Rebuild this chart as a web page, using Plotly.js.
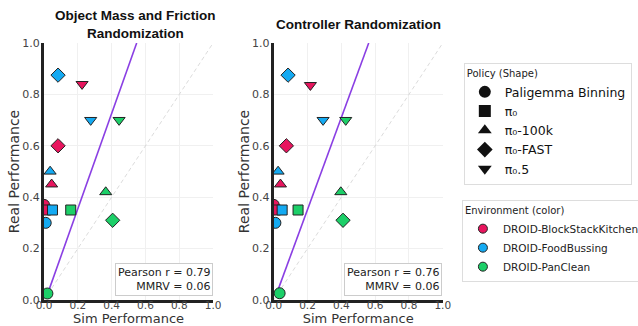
<!DOCTYPE html>
<html><head><meta charset="utf-8">
<script src="https://cdn.plot.ly/plotly-3.0.1.min.js"></script>
<style>html,body{margin:0;padding:0;background:#fff}#plot{width:638px;height:326px}</style>
</head><body><div id="plot"></div>
<script>
// Data
const policies = ["Paligemma Binning", "π₀", "π₀-100k", "π₀-FAST", "π₀.5"];
const policySymbols = ["circle", "square", "triangle-up", "diamond", "triangle-down"];
const environments = ["DROID-BlockStackKitchen", "DROID-FoodBussing", "DROID-PanClean"];
const envColors = ["#E8155E", "#14AAF2", "#1CCF68"];

// sim / real per environment, ordered by policies
const leftSim = {
  "DROID-BlockStackKitchen": [0.00, 0.01, 0.045, 0.083, 0.225],
  "DROID-FoodBussing":       [0.01, 0.05, 0.036, 0.083, 0.276],
  "DROID-PanClean":          [0.02, 0.158, 0.365, 0.406, 0.444]
};
const leftReal = {
  "DROID-BlockStackKitchen": [0.37, 0.35, 0.45, 0.60, 0.84],
  "DROID-FoodBussing":       [0.30, 0.35, 0.50, 0.875, 0.70],
  "DROID-PanClean":          [0.025, 0.35, 0.42, 0.31, 0.70]
};
const rightSim = {
  "DROID-BlockStackKitchen": [0.00, 0.01, 0.04, 0.075, 0.217],
  "DROID-FoodBussing":       [0.01, 0.05, 0.026, 0.085, 0.292],
  "DROID-PanClean":          [0.035, 0.144, 0.397, 0.41, 0.426]
};
const rightReal = {
  "DROID-BlockStackKitchen": [0.37, 0.35, 0.45, 0.60, 0.836],
  "DROID-FoodBussing":       [0.30, 0.35, 0.50, 0.875, 0.70],
  "DROID-PanClean":          [0.026, 0.35, 0.42, 0.31, 0.70]
};
const leftFitX = [0.03, 0.548];
const leftFitY = [0.04, 1.0];
const rightFitX = [0.026, 0.562];
const rightFitY = [0.04, 1.0];
const diagX = [0, 1];
const diagY = [0, 1];
const titles = ["Object Mass and Friction<br>Randomization", "Controller Randomization"];
const stats = ["Pearson r = 0.79<br>MMRV = 0.06", "Pearson r = 0.76<br>MMRV = 0.06"];
const tickVals = [0, 0.2, 0.4, 0.6, 0.8, 1.0];
const tickText = ["0.0", "0.2", "0.4", "0.6", "0.8", "1.0"];

const traces = [];
const markerSizes = [11, 10, 10.5, 11, 10.5];
function addPanel(sim, real, fx, fy, xa, ya) {
  traces.push({x: diagX, y: diagY, xaxis: xa, yaxis: ya, mode: "lines", type: "scatter",
    line: {color: "#d2d2d2", width: 0.8, dash: "4px,3px"}, showlegend: false, hoverinfo: "skip"});
  traces.push({x: fx, y: fy, xaxis: xa, yaxis: ya, mode: "lines", type: "scatter",
    line: {color: "#8A3FE3", width: 1.6}, showlegend: false, hoverinfo: "skip"});
  environments.forEach((env, ei) => {
    traces.push({x: sim[env], y: real[env], xaxis: xa, yaxis: ya, mode: "markers", type: "scatter",
      marker: {symbol: policySymbols, color: envColors[ei], size: markerSizes, opacity: 1,
        line: {color: "#222", width: 1}}, showlegend: false, cliponaxis: true});
  });
}
addPanel(leftSim, leftReal, leftFitX, leftFitY, "x", "y");
addPanel(rightSim, rightReal, rightFitX, rightFitY, "x2", "y2");

// legend entries
policies.forEach((p, i) => {
  traces.push({x: [null], y: [null], mode: "markers", type: "scatter", name: p, legend: "legend",
    marker: {symbol: policySymbols[i], color: "#111", size: 12, opacity: 1}});
});
environments.forEach((e, i) => {
  traces.push({x: [null], y: [null], mode: "markers", type: "scatter", name: e, legend: "legend2",
    marker: {symbol: "circle", color: envColors[i], size: 9, opacity: 1, line: {color: "#222", width: 1}}});
});

const font = "DejaVu Sans, sans-serif";
function xaxis(dom, anchor) {
  return {domain: dom, anchor: anchor, range: [0, 1], tickvals: tickVals, ticktext: tickText,
    showgrid: true, gridcolor: "#f0f0f0", gridwidth: 1, zeroline: false, automargin: false,
    showline: true, linecolor: "#222", linewidth: 3, ticks: "", ticklen: 0, ticklabelstandoff: -7,
    tickfont: {family: font, size: 10.5, color: "#444"},
    title: {text: "Sim Performance", font: {family: font, size: 13, color: "#333"}, standoff: 1}};
}
function yaxis(anchor) {
  return {domain: [0.08, 0.868], anchor: anchor, range: [0, 1], tickvals: tickVals, ticktext: tickText,
    showgrid: true, gridcolor: "#f0f0f0", gridwidth: 1, zeroline: false, automargin: false,
    showline: true, linecolor: "#222", linewidth: 3, ticks: "", ticklen: 0, ticklabelstandoff: -1,
    tickfont: {family: font, size: 11, color: "#444"},
    title: {text: "Real Performance", font: {family: font, size: 14, color: "#333"}, standoff: 0}};
}

const layout = {
  width: 638, height: 326, margin: {l: 0, r: 0, t: 0, b: 0, autoexpand: false},
  paper_bgcolor: "#fff", plot_bgcolor: "#fff",
  xaxis: xaxis([0.069, 0.334], "y"),
  yaxis: yaxis("x"),
  xaxis2: xaxis([0.429, 0.694], "y2"),
  yaxis2: yaxis("x2"),
  legend: {x: 0.727, y: 0.806, xanchor: "left", yanchor: "top", bgcolor: "#fff",
    bordercolor: "#ddd", borderwidth: 1,
    title: {text: "Policy (Shape)", font: {family: font, size: 10, color: "#222"}},
    font: {family: font, size: 12.5, color: "#111"}, tracegroupgap: 0, itemwidth: 30},
  legend2: {x: 0.724, y: 0.386, xanchor: "left", yanchor: "top", bgcolor: "#fff",
    bordercolor: "#ddd", borderwidth: 1,
    title: {text: "Environment (color)", font: {family: font, size: 10, color: "#222"}},
    font: {family: font, size: 10.5, color: "#222"}, tracegroupgap: 0, itemwidth: 30},
  annotations: [
    {text: "<b>" + titles[0] + "</b>", xref: "paper", yref: "paper", x: 0.2116, y: 0.926,
      xanchor: "center", yanchor: "middle", showarrow: false,
      font: {family: "Liberation Sans, Arial, sans-serif", size: 13.5, color: "#111"}},
    {text: "<b>" + titles[1] + "</b>", xref: "paper", yref: "paper", x: 0.562, y: 0.926,
      xanchor: "center", yanchor: "middle", showarrow: false,
      font: {family: "Liberation Sans, Arial, sans-serif", size: 13.5, color: "#111"}},
    {text: stats[0], xref: "x domain", yref: "y domain", x: 0.998, y: 0.016, xanchor: "right",
      yanchor: "bottom", align: "right", showarrow: false, bgcolor: "#fff", bordercolor: "#ccc",
      borderwidth: 1, borderpad: 2, font: {family: font, size: 11, color: "#222"}},
    {text: stats[1], xref: "x2 domain", yref: "y2 domain", x: 0.998, y: 0.016, xanchor: "right",
      yanchor: "bottom", align: "right", showarrow: false, bgcolor: "#fff", bordercolor: "#ccc",
      borderwidth: 1, borderpad: 2, font: {family: font, size: 11, color: "#222"}}
  ]
};
Plotly.newPlot("plot", traces, layout, {displayModeBar: false, staticPlot: true});
</script></body></html>
